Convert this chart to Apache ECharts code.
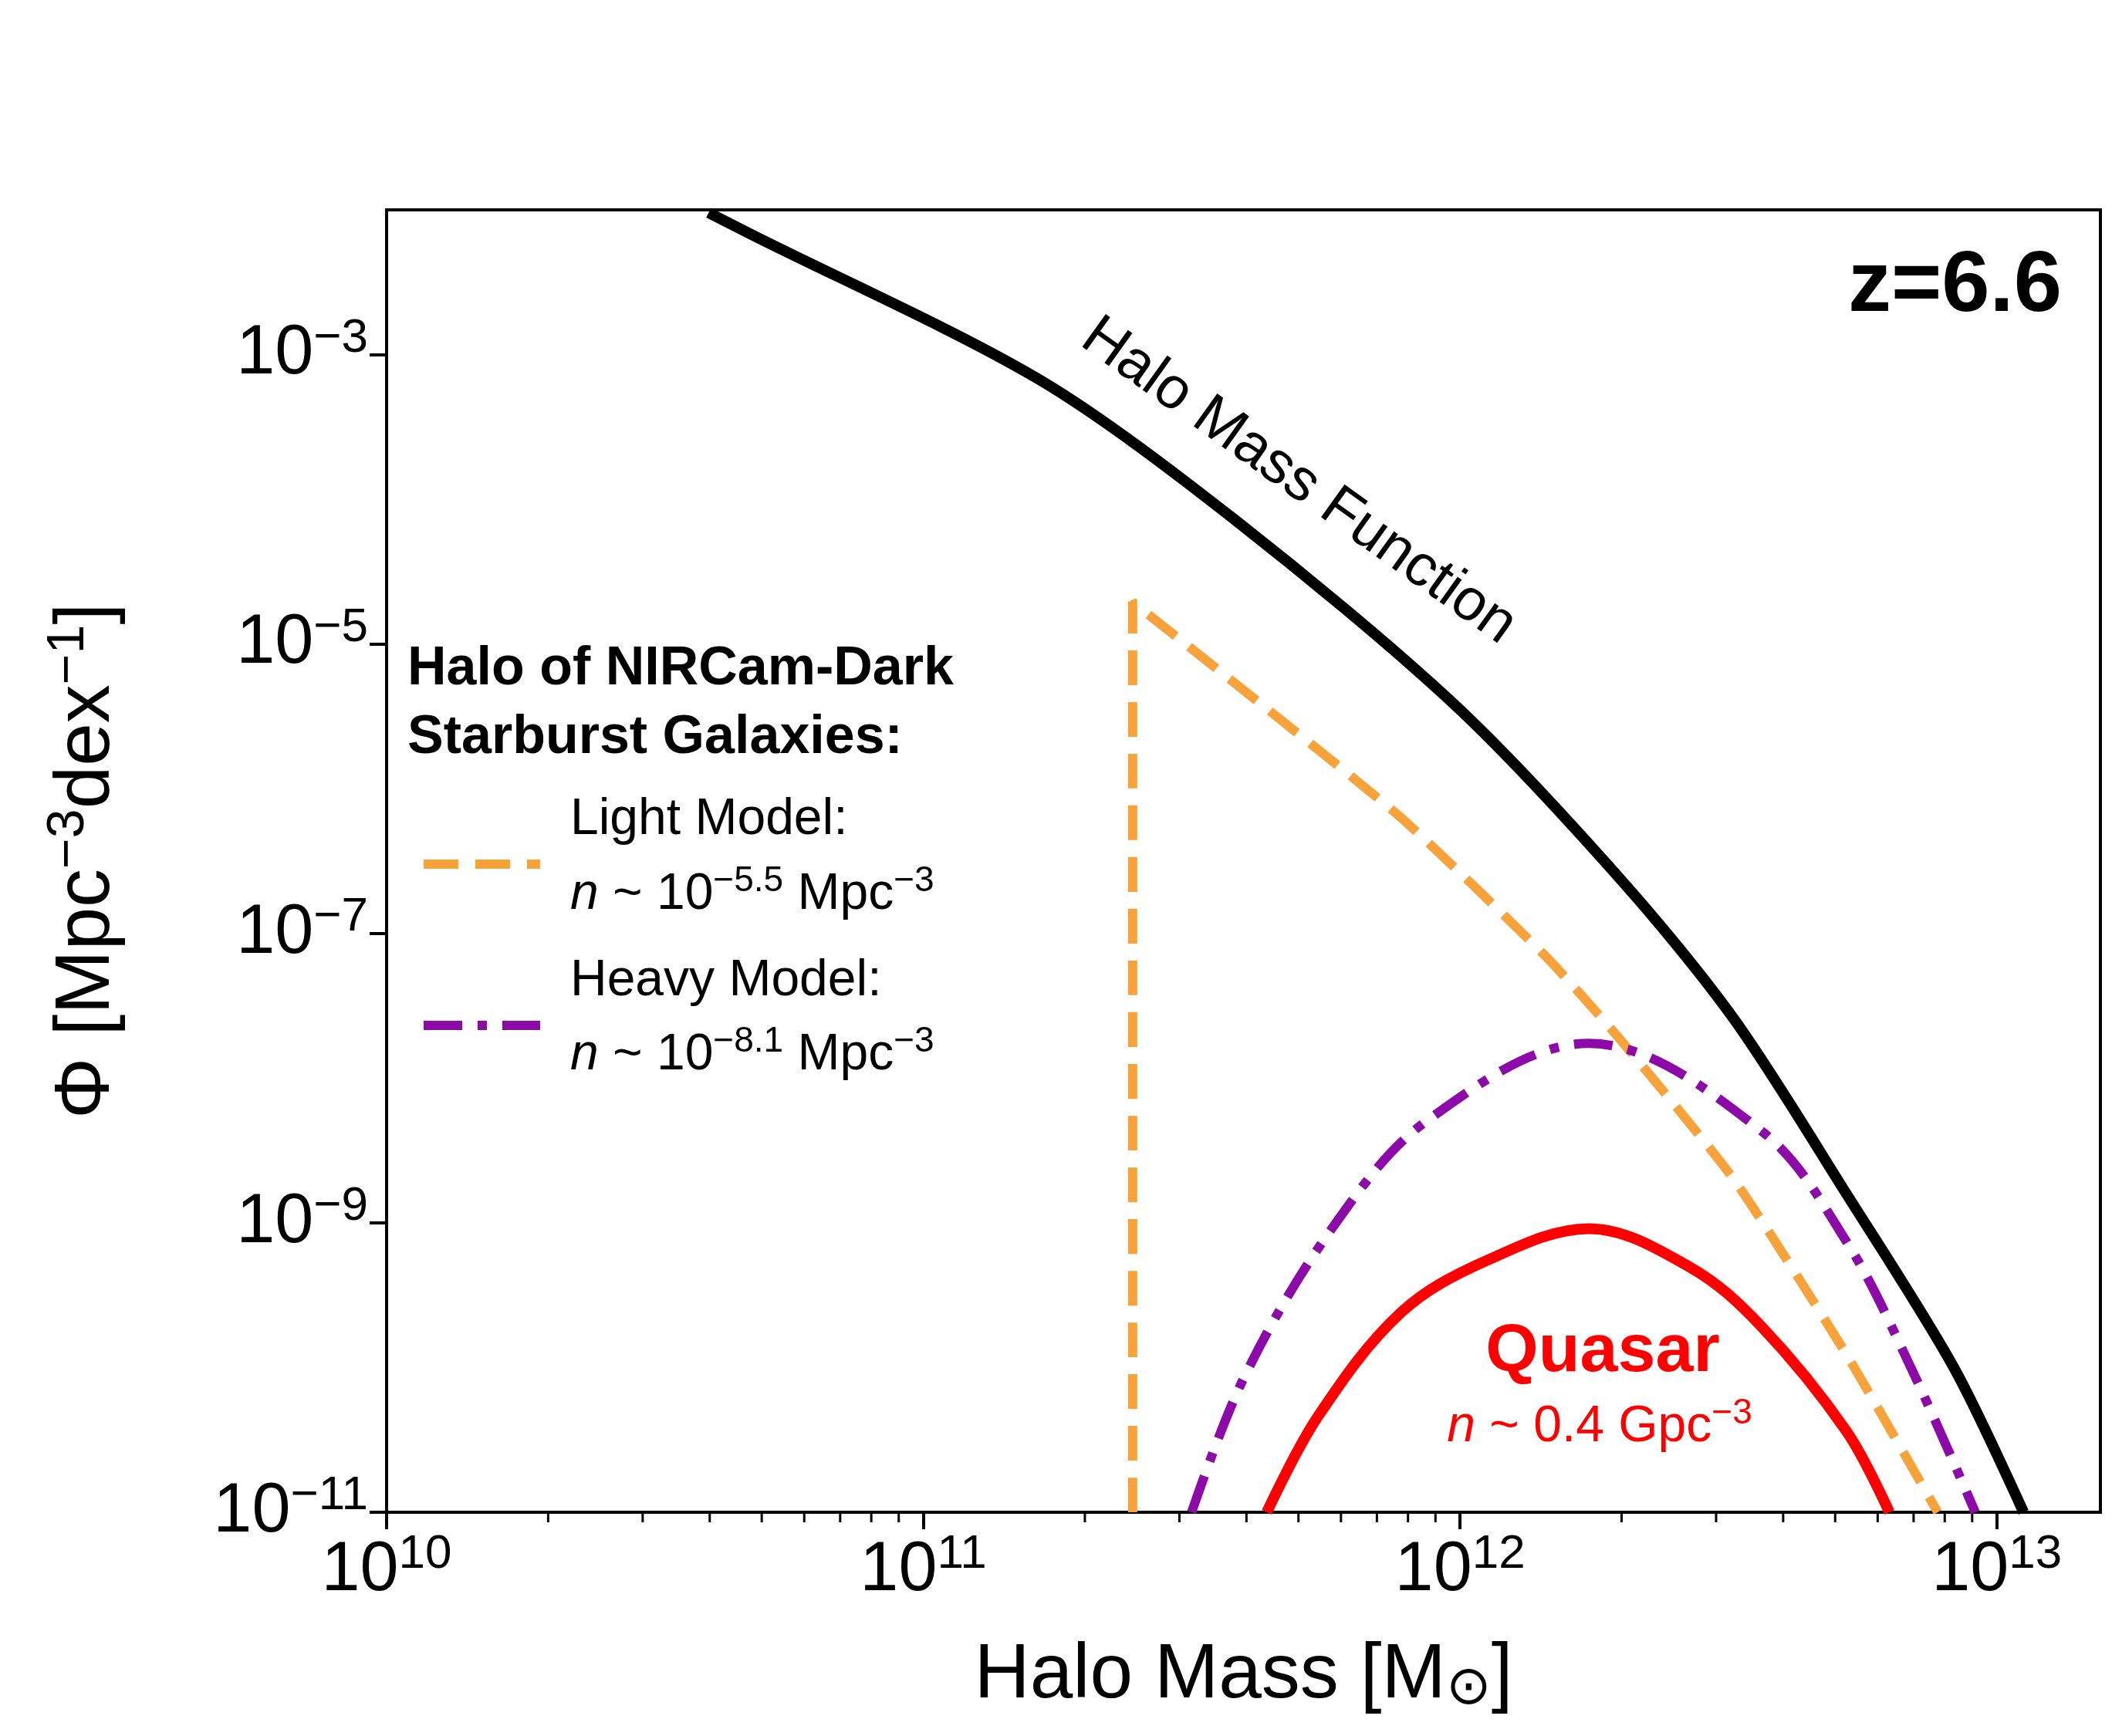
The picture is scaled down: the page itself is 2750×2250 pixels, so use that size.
<!DOCTYPE html>
<html><head><meta charset="utf-8">
<script src="https://cdn.jsdelivr.net/npm/echarts@6/dist/echarts.min.js"></script>
<style>html,body{margin:0;background:#fff}#c{width:2750px;height:2250px}</style>
</head><body><div id="c"></div>
<script>
// values, as log10(mass) and log10(phi)
var hmfLogM   = [10.60, 10.68, 11.215, 11.58, 11.99, 12.30, 12.51, 12.72, 12.92, 13.05];
var hmfLogPhi = [-2.02, -2.17, -3.17, -4.14, -5.42, -6.63, -7.59, -8.80, -10.0, -11.0];

var lightLogM   = [11.39, 11.39, 11.57, 11.89, 12.16, 12.30, 12.51, 12.72, 12.89];
var lightLogPhi = [-11.0, -4.71, -5.24, -6.20, -7.16, -7.74, -8.70, -9.91, -11.0];

var heavyLogM   = [11.50, 11.60, 11.765, 11.94, 12.24, 12.56, 12.72, 12.84, 12.96];
var heavyLogPhi = [-11.0, -10.05, -9.02, -8.29, -7.76, -8.36, -9.13, -10.0, -11.0];

var qsoLogM   = [11.64, 11.735, 11.89, 12.05, 12.24, 12.43, 12.56, 12.72, 12.80];
var qsoLogPhi = [-11.0, -10.34, -9.62, -9.26, -9.04, -9.31, -9.71, -10.44, -11.0];

var minorX = [];
[10, 11, 12].forEach(function (d) {
    for (var k = 2; k <= 9; k++) minorX.push(k * Math.pow(10, d));
});

function pts(lx, ly) {
    return lx.map(function (v, i) { return [Math.pow(10, v), Math.pow(10, ly[i])]; });
}
function sup(v) {
    var e = Math.round(Math.log10(v));
    return '{b|10}{s|' + String(e).replace('-', '\u2212') + '}';
}

var chart = echarts.init(document.getElementById('c'));
var font = 'Liberation Sans';
var tickRich = {b: {fontSize: 90, fontFamily: font}, s: {fontSize: 62, fontFamily: font, padding: [0, 0, 42, 0]}};
var option = {
    animation: false,
    grid: {left: 501, right: 28, top: 272, bottom: 290, show: true,
        borderColor: '#000', borderWidth: 4, backgroundColor: 'transparent'},
    xAxis: {
        type: 'log', logBase: 10, min: 1e10, max: 1.56e13, interval: 1,
        name: 'Halo Mass [M{sub|\u2299}]', nameLocation: 'middle', nameGap: 160,
        nameTextStyle: {fontFamily: font, fontSize: 100, color: '#000',
            rich: {sub: {fontSize: 70, verticalAlign: 'bottom', padding: [34, 0, 0, 0], fontFamily: font}}},
        axisLine: {lineStyle: {color: '#000', width: 4}},
        axisTick: {length: 22, lineStyle: {width: 4, color: '#000'}},
        splitLine: {show: false},
        axisLabel: {margin: 24, formatter: sup, color: '#000', rich: tickRich}
    },
    yAxis: {
        type: 'log', logBase: 10, min: 1e-11, max: 1e-2, interval: 2,
        name: '\u03a6 [Mpc{s|\u22123}dex{s|\u22121}]', nameLocation: 'middle', nameRotate: 90, nameGap: 330,
        nameTextStyle: {fontFamily: font, fontSize: 100, color: '#000',
            rich: {s: {fontSize: 68, fontFamily: font, padding: [0, 0, 48, 0]}}},
        axisLine: {lineStyle: {color: '#000', width: 4}},
        axisTick: {length: 22, lineStyle: {width: 4, color: '#000'}},
        splitLine: {show: false},
        axisLabel: {margin: 24, formatter: sup, color: '#000', showMaxLabel: false, rich: tickRich}
    },
    series: [
        {type: 'line', data: pts(hmfLogM, hmfLogPhi), smooth: 0.3, symbol: 'none',
            lineStyle: {color: '#000', width: 14}},
        {type: 'line', data: pts(lightLogM, lightLogPhi), smooth: 0.2, symbol: 'none',
            lineStyle: {color: '#f7a23b', width: 12, type: [45, 22]}},
        {type: 'line', data: pts(heavyLogM, heavyLogPhi), smooth: 0.35, symbol: 'none',
            lineStyle: {color: '#8c0aa8', width: 12, type: [50, 20, 12, 20]}},
        {type: 'line', data: pts(qsoLogM, qsoLogPhi), smooth: 0.35, symbol: 'none',
            lineStyle: {color: '#ff0000', width: 14}},
        {type: 'custom', clip: false, silent: true,
            data: minorX.map(function (v) { return [v, 1e-11]; }),
            renderItem: function (params, api) {
                var p = api.coord([api.value(0), api.value(1)]);
                return {type: 'line', shape: {x1: p[0], y1: p[1], x2: p[0], y2: p[1] + 13},
                    style: {stroke: '#000', lineWidth: 3}};
            }}
    ],
    graphic: [
        {type: 'text', x: 1683, y: 624, rotation: -0.62, style: {text: 'Halo Mass Function',
            font: '76px "Liberation Sans"', fill: '#000', align: 'center', verticalAlign: 'middle'}},
        {type: 'text', x: 2672, y: 372, style: {text: 'z=6.6', font: 'bold 112px "Liberation Sans"',
            fill: '#000', align: 'right', verticalAlign: 'middle'}},
        {type: 'text', x: 528, y: 868, style: {text: 'Halo of NIRCam-Dark', font: 'bold 70px "Liberation Sans"',
            fill: '#000', verticalAlign: 'middle'}},
        {type: 'text', x: 528, y: 957, style: {text: 'Starburst Galaxies:', font: 'bold 70px "Liberation Sans"',
            fill: '#000', verticalAlign: 'middle'}},
        {type: 'line', shape: {x1: 549, y1: 1120, x2: 700, y2: 1120},
            style: {stroke: '#f7a23b', lineWidth: 12, lineDash: [45, 22]}},
        {type: 'line', shape: {x1: 549, y1: 1329, x2: 700, y2: 1329},
            style: {stroke: '#8c0aa8', lineWidth: 12, lineDash: [50, 20, 12, 20]}},
        {type: 'text', x: 739, y: 1063, style: {text: 'Light Model:', font: '66px "Liberation Sans"',
            fill: '#000', verticalAlign: 'middle'}},
        {type: 'text', x: 739, y: 1160, style: {text: '{i|n} ~ 10{s|\u22125.5} Mpc{s|\u22123}',
            font: '66px "Liberation Sans"', fill: '#000', verticalAlign: 'middle',
            rich: {i: {fontStyle: 'italic', fontSize: 66, fontFamily: font},
                s: {fontSize: 46, fontFamily: font, padding: [0, 0, 36, 0]}}}},
        {type: 'text', x: 739, y: 1272, style: {text: 'Heavy Model:', font: '66px "Liberation Sans"',
            fill: '#000', verticalAlign: 'middle'}},
        {type: 'text', x: 739, y: 1368, style: {text: '{i|n} ~ 10{s|\u22128.1} Mpc{s|\u22123}',
            font: '66px "Liberation Sans"', fill: '#000', verticalAlign: 'middle',
            rich: {i: {fontStyle: 'italic', fontSize: 66, fontFamily: font},
                s: {fontSize: 46, fontFamily: font, padding: [0, 0, 36, 0]}}}},
        {type: 'text', x: 2077, y: 1753, style: {text: 'Quasar', font: 'bold 88px "Liberation Sans"',
            fill: '#ff0000', align: 'center', verticalAlign: 'middle'}},
        {type: 'text', x: 2073, y: 1850, style: {text: '{i|n} ~ 0.4 Gpc{s|\u22123}',
            font: '66px "Liberation Sans"', fill: '#ff0000', align: 'center', verticalAlign: 'middle',
            rich: {i: {fontStyle: 'italic', fontSize: 66, fontFamily: font, fill: '#ff0000'},
                s: {fontSize: 46, fontFamily: font, fill: '#ff0000', padding: [0, 0, 36, 0]}}}}
    ]
};
chart.setOption(option);
</script></body></html>
